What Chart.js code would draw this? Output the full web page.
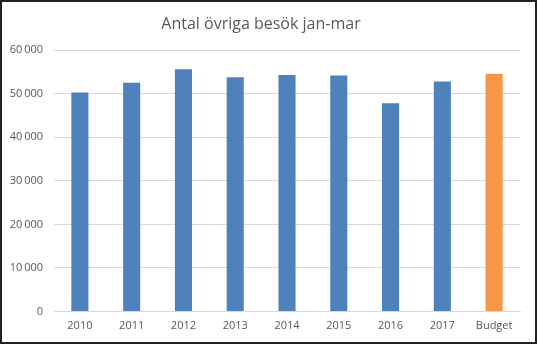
<!DOCTYPE html>
<html><head><meta charset="utf-8">
<script src="https://cdn.jsdelivr.net/npm/chart.js@4"></script>
<style>
html,body{margin:0;padding:0;background:#fff;}
#wrap{width:537px;height:344px;box-sizing:border-box;border:2px solid #222;background:#fff;}
canvas{display:block;}
</style></head>
<body>
<div id="wrap"><canvas id="c" width="533" height="340"></canvas></div>
<script>
const categories = ["2010","2011","2012","2013","2014","2015","2016","2017","Budget"];
const visits = [50300, 52500, 55600, 53800, 54300, 54200, 47800, 52800, 54600];
const barColors = ["#4F81BD","#4F81BD","#4F81BD","#4F81BD","#4F81BD","#4F81BD","#4F81BD","#4F81BD","#F79646"];
const yTicks = [0, 10000, 20000, 30000, 40000, 50000, 60000];
const titleText = "Antal övriga besök jan-mar";

const fmt = v => v === 0 ? "0" : String(v).replace(/\B(?=(\d{3})+(?!\d))/g, "\u2009");
const FONT = "'Open Sans', 'Liberation Sans', sans-serif";

new Chart(document.getElementById('c'), {
  type: 'bar',
  data: {
    labels: categories,
    datasets: [{ data: visits, backgroundColor: barColors, barPercentage: 0.33, categoryPercentage: 1 }]
  },
  options: {
    responsive: false,
    animation: false,
    layout: { padding: { left: 0, right: 15, top: 0, bottom: 0 } },
    plugins: {
      legend: { display: false },
      tooltip: { enabled: false },
      title: {
        display: true, text: titleText, color: '#595959',
        font: { family: FONT, size: 16, weight: 'normal' },
        padding: { top: 13, bottom: 16 }
      }
    },
    scales: {
      x: {
        grid: { display: false, drawTicks: false },
        border: { display: true, color: '#d9d9d9', width: 1 },
        ticks: { color: '#595959', font: { family: FONT, size: 11 }, padding: 8, maxRotation: 0 },
        afterFit: s => { s.height = 30.5; }
      },
      y: {
        min: 0, max: 60000,
        afterBuildTicks: s => { s.ticks = yTicks.map(v => ({ value: v })); },
        grid: { color: '#d9d9d9', drawTicks: false },
        border: { display: false },
        ticks: { color: '#595959', font: { family: FONT, size: 11 }, padding: 11, callback: v => fmt(v) },
        afterFit: s => { s.width = 52; }
      }
    }
  }
});
</script>
</body></html>
